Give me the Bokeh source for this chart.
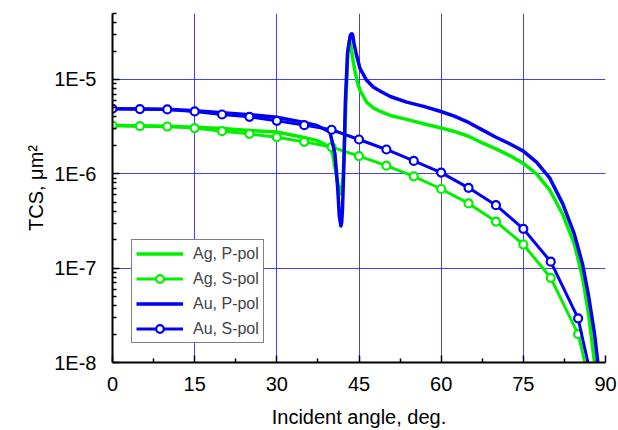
from bokeh.plotting import figure
from bokeh.models import FixedTicker, CustomJSTickFormatter, Range1d
from bokeh.embed import file_html
from bokeh.resources import INLINE

# ---------------- data ----------------
angles_s = [0, 5, 10, 15, 20, 25, 30, 35, 40, 45, 50, 55, 60, 65, 70, 75, 80, 85]
ag_s = [3.25e-6, 3.2e-6, 3.17e-6, 3.05e-6, 2.83e-6, 2.65e-6, 2.44e-6, 2.18e-6, 1.92e-6,
        1.54e-6, 1.22e-6, 9.4e-7, 6.9e-7, 4.85e-7, 3.12e-7, 1.78e-7, 7.9e-8, 2.0e-8]
au_s = [4.89e-6, 4.85e-6, 4.81e-6, 4.58e-6, 4.25e-6, 4.02e-6, 3.64e-6, 3.28e-6, 2.93e-6,
        2.31e-6, 1.81e-6, 1.37e-6, 1.03e-6, 7.1e-7, 4.65e-7, 2.61e-7, 1.17e-7, 2.94e-8]
ag_s_tail_angle = [85.6, 86.2]
ag_s_tail = [1.45e-8, 1.0e-8]
au_s_tail_angle = [86.0, 86.8]
au_s_tail = [1.6e-8, 1.0e-8]

ag_p_angle = [0, 10, 15, 20, 25, 30, 34.7, 37.3, 39.7, 40.2, 40.7, 41.2, 41.7, 42.1, 42.4,
              42.7, 43.0, 43.25, 43.5, 44.0, 44.6, 45.2, 46.4, 47.6, 48.9, 50.7, 53.7, 56.8,
              59.8, 62.4, 65.0, 67.5, 70.0, 72.5, 75.0, 77.4, 79.8, 82.2, 84.3, 85.8, 86.9,
              88.0]
ag_p = [3.25e-6, 3.2e-6, 3.12e-6, 3.02e-6, 2.88e-6, 2.77e-6, 2.44e-6, 2.26e-6, 1.92e-6,
        1.6e-6, 1.1e-6, 7.5e-7, 6.1e-7, 9.0e-7, 2.5e-6, 8.0e-6, 2.0e-5, 2.6e-5, 2.3e-5,
        1.47e-5, 9.8e-6, 7.6e-6, 5.75e-6, 5.0e-6, 4.58e-6, 4.15e-6, 3.77e-6, 3.39e-6,
        3.08e-6, 2.81e-6, 2.5e-6, 2.13e-6, 1.84e-6, 1.56e-6, 1.29e-6, 1.0e-6, 6.76e-7,
        3.7e-7, 1.81e-7, 8.0e-8, 3.27e-8, 1.0e-8]

au_p_angle = [0, 10, 15, 20, 25, 30, 34.7, 37.3, 39.7, 40.6, 41.1, 41.4, 41.7, 41.85, 42.0,
              42.3, 42.5, 42.9, 43.4, 43.55, 43.7, 43.85, 44.1, 44.6, 45.2, 46.4, 47.6, 48.9,
              50.7, 53.7, 56.8, 59.8, 62.4, 65.0, 67.5, 70.0, 72.5, 75.0, 77.4, 79.8, 82.2,
              84.3, 85.8, 86.9, 88.0, 88.6]
au_p = [4.89e-6, 4.83e-6, 4.66e-6, 4.45e-6, 4.23e-6, 3.98e-6, 3.53e-6, 3.25e-6, 2.77e-6,
        1.64e-6, 7.2e-7, 3.6e-7, 2.8e-7, 3.1e-7, 4.4e-7, 1.64e-6, 5.6e-6, 1.89e-5, 2.93e-5,
        3.02e-5, 3.05e-5, 2.95e-5, 2.39e-5, 1.75e-5, 1.3e-5, 9.8e-6, 8.3e-6, 7.5e-6,
        6.6e-6, 5.75e-6, 5.18e-6, 4.6e-6, 4.08e-6, 3.5e-6, 2.92e-6, 2.44e-6, 2.08e-6,
        1.74e-6, 1.33e-6, 9.06e-7, 4.8e-7, 2.31e-7, 1.11e-7, 5.13e-8, 2.0e-8, 1.0e-8]

x_major = [0, 15, 30, 45, 60, 75, 90]
x_minor = [7.5, 22.5, 37.5, 52.5, 67.5, 82.5]
y_major = [1e-8, 1e-7, 1e-6, 1e-5]
y_minor = [m * d for d in [1e-8, 1e-7, 1e-6, 1e-5] for m in range(2, 10) if m * d <= 5e-5]

GREEN = "#00f000"
BLUE = "#0000f5"
FONT = "Liberation Sans"

p = figure(width=618, height=430, output_backend="svg", toolbar_location=None,
           y_axis_type="log", x_range=Range1d(0, 90), y_range=Range1d(1e-8, 5e-5),
           min_border_left=112, min_border_right=13, min_border_top=13, min_border_bottom=68)
p.outline_line_color = None
p.background_fill_color = "white"
p.border_fill_color = "white"

# grid
p.xgrid.ticker = FixedTicker(ticks=[15, 30, 45, 60, 75])
p.ygrid.ticker = FixedTicker(ticks=[1e-7, 1e-6, 1e-5])
p.grid.grid_line_color = "#2020ff"
p.grid.grid_line_alpha = 0.85
p.grid.grid_line_width = 1

# curves
p.line(ag_p_angle, ag_p, line_color=GREEN, line_width=3.5, line_join="round",
       legend_label="Ag, P-pol")
p.line(angles_s + ag_s_tail_angle, ag_s + ag_s_tail, line_color=GREEN, line_width=3,
       line_join="round", legend_label="Ag, S-pol")
p.scatter(angles_s, ag_s, marker="circle", size=8, line_color=GREEN, line_width=2.2,
          fill_color="white", legend_label="Ag, S-pol")
p.line(au_p_angle, au_p, line_color=BLUE, line_width=3.5, line_join="round",
       legend_label="Au, P-pol")
p.line(angles_s + au_s_tail_angle, au_s + au_s_tail, line_color=BLUE, line_width=3,
       line_join="round", legend_label="Au, S-pol")
p.scatter(angles_s, au_s, marker="circle", size=8, line_color=BLUE, line_width=2.2,
          fill_color="white", legend_label="Au, S-pol")

# axes
for ax in (p.xaxis[0], p.yaxis[0]):
    ax.axis_line_color = "black"
    ax.axis_line_width = 2
    ax.major_tick_line_color = "black"
    ax.minor_tick_line_color = "black"
    ax.major_tick_line_width = 1.5
    ax.minor_tick_line_width = 1.5
    ax.major_tick_in = 7
    ax.major_tick_out = 0
    ax.minor_tick_in = 4
    ax.minor_tick_out = 0
    ax.major_label_text_font = FONT
    ax.major_label_text_font_size = "20px"
    ax.major_label_text_color = "black"
    ax.axis_label_text_font = FONT
    ax.axis_label_text_font_size = "20px"
    ax.axis_label_text_font_style = "normal"
    ax.axis_label_text_color = "black"

p.xaxis.ticker = FixedTicker(ticks=x_major, minor_ticks=x_minor)
p.yaxis.ticker = FixedTicker(ticks=y_major, minor_ticks=y_minor)
p.yaxis.formatter = CustomJSTickFormatter(code="return '1E' + Math.round(Math.log10(tick));")
p.xaxis.axis_label = "Incident angle, deg."
p.yaxis.axis_label = "TCS, μm²"
p.xaxis.major_label_standoff = 14
p.xaxis.axis_label_standoff = 12
p.yaxis.major_label_standoff = 16
p.yaxis.axis_label_standoff = 4

# legend
lg = p.legend[0]
lg.location = (19, 19)
lg.margin = 0
lg.padding = 4
lg.spacing = 6
lg.glyph_width = 47
lg.glyph_height = 19
lg.label_standoff = 10
lg.label_text_font = FONT
lg.label_text_font_size = "16px"
lg.label_height = 19
lg.border_line_color = "black"
lg.border_line_width = 1.5
lg.background_fill_color = "white"
lg.background_fill_alpha = 1.0

open("out.html", "w").write(file_html(p, INLINE))
